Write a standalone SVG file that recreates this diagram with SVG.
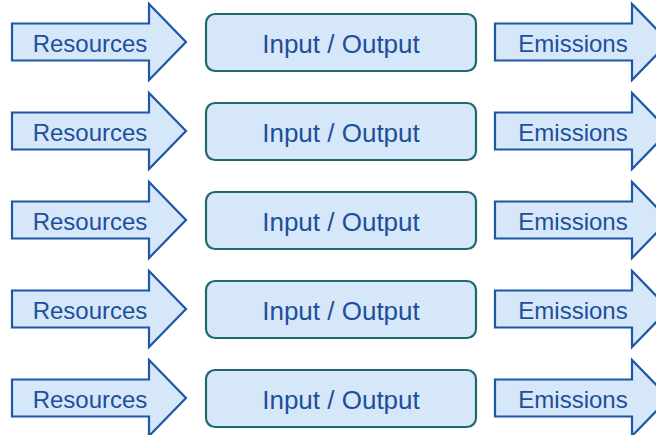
<svg xmlns="http://www.w3.org/2000/svg" width="656" height="435" viewBox="0 0 656 435">
<style>
.arr{fill:#d5e7f8;stroke:#1d57a6;stroke-width:2.2;stroke-linejoin:miter}
.box{fill:#d5e7f8;stroke:#1e6a6c;stroke-width:2.2}
.t{font-family:"Liberation Sans",Arial,sans-serif;fill:#1d4f9c;text-anchor:middle}
.s{font-size:24px}
.b{font-size:26px}
</style>
<defs>
<polygon id="ar" points="0,-18.5 137,-18.5 137,-38 174,0 137,38 137,18.5 0,18.5"/>
</defs>
<g id="row1" transform="translate(0,42)">
<g id="res1"><use href="#ar" x="12" class="arr"/><text class="t s" x="90" y="10">Resources</text></g>
<g id="io1"><rect class="box" x="206" y="-28" width="270" height="57" rx="9"/><text class="t b" x="341" y="11">Input / Output</text></g>
<g id="em1"><use href="#ar" x="495" class="arr"/><text class="t s" x="573" y="10">Emissions</text></g>
</g>
<g id="row2" transform="translate(0,131)">
<g id="res2"><use href="#ar" x="12" class="arr"/><text class="t s" x="90" y="10">Resources</text></g>
<g id="io2"><rect class="box" x="206" y="-28" width="270" height="57" rx="9"/><text class="t b" x="341" y="11">Input / Output</text></g>
<g id="em2"><use href="#ar" x="495" class="arr"/><text class="t s" x="573" y="10">Emissions</text></g>
</g>
<g id="row3" transform="translate(0,220)">
<g id="res3"><use href="#ar" x="12" class="arr"/><text class="t s" x="90" y="10">Resources</text></g>
<g id="io3"><rect class="box" x="206" y="-28" width="270" height="57" rx="9"/><text class="t b" x="341" y="11">Input / Output</text></g>
<g id="em3"><use href="#ar" x="495" class="arr"/><text class="t s" x="573" y="10">Emissions</text></g>
</g>
<g id="row4" transform="translate(0,309)">
<g id="res4"><use href="#ar" x="12" class="arr"/><text class="t s" x="90" y="10">Resources</text></g>
<g id="io4"><rect class="box" x="206" y="-28" width="270" height="57" rx="9"/><text class="t b" x="341" y="11">Input / Output</text></g>
<g id="em4"><use href="#ar" x="495" class="arr"/><text class="t s" x="573" y="10">Emissions</text></g>
</g>
<g id="row5" transform="translate(0,398)">
<g id="res5"><use href="#ar" x="12" class="arr"/><text class="t s" x="90" y="10">Resources</text></g>
<g id="io5"><rect class="box" x="206" y="-28" width="270" height="57" rx="9"/><text class="t b" x="341" y="11">Input / Output</text></g>
<g id="em5"><use href="#ar" x="495" class="arr"/><text class="t s" x="573" y="10">Emissions</text></g>
</g>
<g id="connectors"></g>
</svg>
